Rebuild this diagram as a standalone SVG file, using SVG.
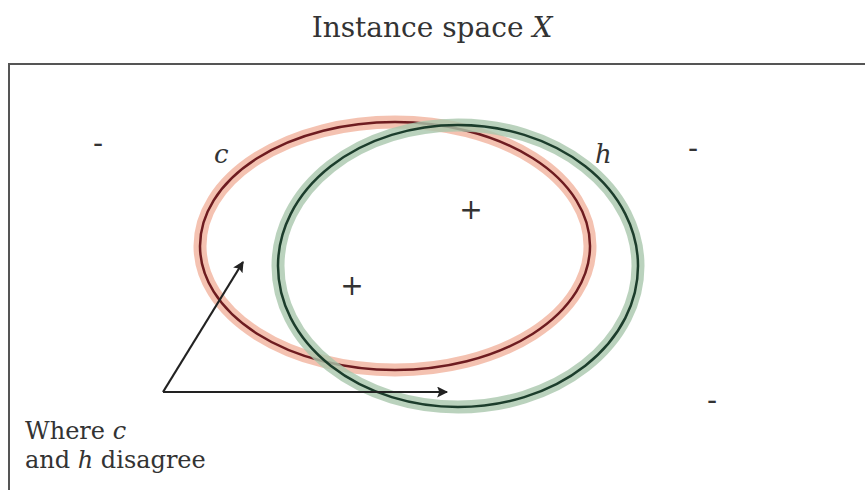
<svg xmlns="http://www.w3.org/2000/svg" width="865" height="490" viewBox="0 0 865 490">
<style>
.t{font-family:"DejaVu Serif","Liberation Serif",serif;fill:#333}
.i{font-style:italic}
.s{font-family:"DejaVu Sans","Liberation Sans",sans-serif;fill:#333}
</style>
<defs>
<marker id="ah2" viewBox="0 0 10 10" refX="9" refY="5" markerWidth="26" markerHeight="11" orient="auto" markerUnits="userSpaceOnUse">
<path d="M0,0 L10,5 L0,10 L2,5 Z" fill="#222"/>
</marker>
</defs>
<rect width="865" height="490" fill="#fff"/>
<text class="t" x="432" y="37" font-size="28" text-anchor="middle">Instance space <tspan class="i">X</tspan></text>
<rect x="9" y="64" width="870" height="440" fill="none" stroke="#555" stroke-width="2"/>
<g id="c">
<ellipse cx="395" cy="246" rx="195" ry="124" fill="none" stroke="#f2b7a3" stroke-width="13" opacity="0.85"/>
<ellipse cx="395" cy="246" rx="195" ry="124" fill="none" stroke="#6e1c20" stroke-width="2.5"/>
<text class="t i" x="214" y="163" font-size="26">c</text>
</g>
<g id="h">
<ellipse cx="458" cy="266" rx="180" ry="141" fill="none" stroke="#a9c7ad" stroke-width="13" opacity="0.8"/>
<ellipse cx="458" cy="266" rx="180" ry="141" fill="none" stroke="#1c3d2c" stroke-width="2.5"/>
<text class="t i" x="595" y="163" font-size="26">h</text>
</g>
<g id="signs" class="s" font-size="28">
<text x="98" y="153" text-anchor="middle">-</text>
<text x="693" y="158" text-anchor="middle">-</text>
<text x="712" y="410" text-anchor="middle">-</text>
<text x="471" y="219" text-anchor="middle">+</text>
<text x="352" y="295" text-anchor="middle">+</text>
</g>
<g id="connectors" stroke="#222" stroke-width="2.2" fill="none">
<line x1="163" y1="392" x2="243" y2="262" marker-end="url(#ah2)"/>
<line x1="163" y1="392" x2="447" y2="392" marker-end="url(#ah2)"/>
</g>
<g id="label" class="t" font-size="24">
<text x="25" y="439">Where <tspan class="i">c</tspan></text>
<text x="25" y="468">and <tspan class="i">h</tspan> disagree</text>
</g>
</svg>
